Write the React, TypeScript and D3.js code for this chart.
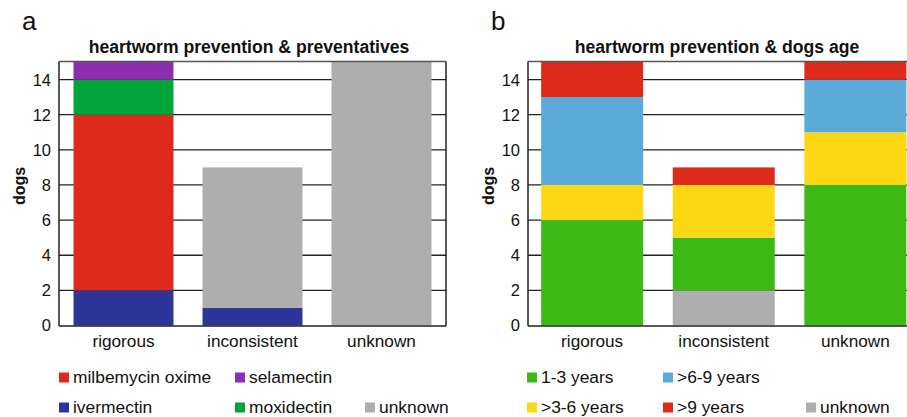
import React from "react";
import * as d3 from "d3";

const categories = ["rigorous", "inconsistent", "unknown"];
const yTicks = [0, 2, 4, 6, 8, 10, 12, 14];

// panel a: preventatives
const drugKeys = ["ivermectin", "milbemycin oxime", "moxidectin", "selamectin", "unknown"];
const ivermectin = [2, 1, 0];
const milbemycin = [10, 0, 0];
const moxidectin = [2, 0, 0];
const selamectin = [1, 0, 0];
const drugUnknown = [0, 8, 15];
const drugColors = ["#2e3599", "#dd2a1b", "#00a538", "#8b2fb0", "#aeaeae"];

// panel b: dogs age
const ageKeys = ["unknown", "1-3 years", ">3-6 years", ">6-9 years", ">9 years"];
const ageUnknown = [0, 2, 0];
const age1to3 = [6, 3, 8];
const age3to6 = [2, 3, 3];
const age6to9 = [5, 0, 3];
const age9plus = [2, 1, 1];
const ageColors = ["#aeaeae", "#3cb914", "#fdd714", "#5aabd9", "#dd2a1b"];

const font = "'Liberation Sans', Arial, Helvetica, sans-serif";

type Legend = { key: string; col: number; row: number };

const Panel = (props: any) => {
  const { letter, title, keys, series, colors, x0, x1, outer, legend, legendCols } = props;
  const top = 62;
  const bottom = 325.5;
  const y = d3.scaleLinear().domain([0, 15]).range([bottom, top]);
  const x = d3
    .scaleBand()
    .domain(categories)
    .range([x0, x1])
    .paddingInner(0.225)
    .paddingOuter(outer);

  const rows = categories.map((c, i) => {
    const r: any = { cat: c };
    keys.forEach((k: string, j: number) => (r[k] = series[j][i]));
    return r;
  });
  const stacked = d3.stack().keys(keys)(rows);
  const color = d3.scaleOrdinal<string, string>().domain(keys).range(colors);
  const frameRight = Math.min(x1, 907.5);

  return (
    <g>
      <text x={x0 - 37} y={30} fontSize={26} fontFamily={font} fill="#111">
        {letter}
      </text>
      <text
        x={props.titleX}
        y={53}
        fontSize={17.6}
        fontWeight="bold"
        fontFamily={font}
        textAnchor="middle"
        fill="#111"
      >
        {title}
      </text>
      {yTicks.map((t) => (
        <g key={t}>
          {t > 0 && (
            <line x1={x0} x2={frameRight} y1={y(t)} y2={y(t)} stroke="#222" strokeWidth={1.3} />
          )}
          <text
            x={x0 - 8}
            y={y(t)}
            dy="0.36em"
            fontSize={16.5}
            fontFamily={font}
            textAnchor="end"
            fill="#111"
          >
            {t}
          </text>
        </g>
      ))}
      {stacked.map((s: any) =>
        s.map((d: any) =>
          d[1] > d[0] ? (
            <rect
              key={s.key + d.data.cat}
              x={x(d.data.cat)}
              width={x.bandwidth()}
              y={y(d[1])}
              height={y(d[0]) - y(d[1])}
              fill={color(s.key)}
            />
          ) : null
        )
      )}
      <line x1={x0} x2={x0} y1={top - 0.5} y2={bottom + 0.5} stroke="#222" strokeWidth={1.5} />
      <line x1={x0} x2={frameRight} y1={top - 0.5} y2={top - 0.5} stroke="#555" strokeWidth={1.3} />
      <line x1={x0} x2={frameRight} y1={bottom + 0.5} y2={bottom + 0.5} stroke="#222" strokeWidth={1.5} />
      {x1 < 907 && (
        <line x1={x1} x2={x1} y1={top - 0.5} y2={bottom + 0.5} stroke="#222" strokeWidth={1.5} />
      )}
      <text
        transform={`translate(${x0 - 40},${186}) rotate(-90)`}
        fontSize={16}
        fontWeight="bold"
        fontFamily={font}
        textAnchor="middle"
        dy="0.35em"
        fill="#111"
      >
        dogs
      </text>
      {categories.map((c) => (
        <text
          key={c}
          x={(x(c) as number) + x.bandwidth() / 2}
          y={347}
          fontSize={17.2}
          fontFamily={font}
          textAnchor="middle"
          fill="#111"
        >
          {c}
        </text>
      ))}
      {legend.map((l: Legend) => (
        <g key={l.key} transform={`translate(${legendCols[l.col]},${l.row === 0 ? 372.5 : 402.5})`}>
          <rect width={10} height={10} fill={color(l.key)} />
          <text x={14} y={10} fontSize={17.4} fontFamily={font} fill="#111">
            {l.key}
          </text>
        </g>
      ))}
    </g>
  );
};

const drugLegend: Legend[] = [
  { key: "milbemycin oxime", col: 0, row: 0 },
  { key: "selamectin", col: 1, row: 0 },
  { key: "ivermectin", col: 0, row: 1 },
  { key: "moxidectin", col: 1, row: 1 },
  { key: "unknown", col: 2, row: 1 },
];

const ageLegend: Legend[] = [
  { key: "1-3 years", col: 0, row: 0 },
  { key: ">6-9 years", col: 1, row: 0 },
  { key: ">3-6 years", col: 0, row: 1 },
  { key: ">9 years", col: 1, row: 1 },
  { key: "unknown", col: 2, row: 1 },
];

export default function App() {
  return (
    <svg
      width={907}
      height={417}
      style={{ position: "absolute", left: 0, top: 0, background: "#fff" }}
    >
      <Panel
        letter="a"
        title="heartworm prevention & preventatives"
        titleX={249}
        keys={drugKeys}
        series={[ivermectin, milbemycin, moxidectin, selamectin, drugUnknown]}
        colors={drugColors}
        x0={59}
        x1={446}
        outer={0.1125}
        legend={drugLegend}
        legendCols={[59, 235, 365]}
      />
      <Panel
        letter="b"
        title="heartworm prevention & dogs age"
        titleX={717}
        keys={ageKeys}
        series={[ageUnknown, age1to3, age3to6, age6to9, age9plus]}
        colors={ageColors}
        x0={528}
        x1={919.5}
        outer={0.1}
        legend={ageLegend}
        legendCols={[527, 663, 806]}
      />
    </svg>
  );
}
